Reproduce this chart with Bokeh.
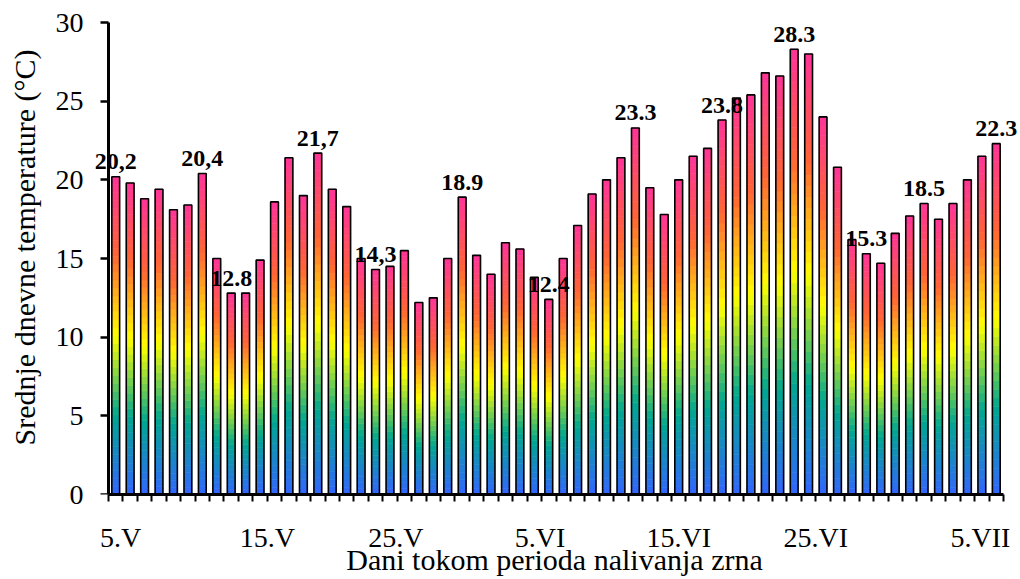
import numpy as np
from bokeh.plotting import figure
from bokeh.models import ColumnDataSource, FixedTicker, Label, LinearAxis, Range1d
from bokeh.embed import file_html
from bokeh.resources import INLINE

# Mean daily temperature (°C), one value per day from 5 May to 5 July
temps = [20.2, 19.8, 18.8, 19.4, 18.1, 18.4, 20.4, 15.0, 12.8, 12.8,
         14.9, 18.6, 21.4, 19.0, 21.7, 19.4, 18.3, 15.0, 14.3, 14.5,
         15.5, 12.2, 12.5, 15.0, 18.9, 15.2, 14.0, 16.0, 15.6, 13.8,
         12.4, 15.0, 17.1, 19.1, 20.0, 21.4, 23.3, 19.5, 17.8, 20.0,
         21.5, 22.0, 23.8, 25.2, 25.4, 26.8, 26.6, 28.3, 28.0, 24.0,
         20.8, 16.2, 15.3, 14.7, 16.6, 17.7, 18.5, 17.5, 18.5, 20.0,
         21.5, 22.3]

# Days whose value is written above the bar, and the text written there
label_days = [0, 6, 8, 14, 18, 24, 30, 36, 42, 47, 52, 56, 61]
label_texts = ["20,2", "20,4", "12.8", "21,7", "14,3", "18.9", "12.4",
               "23.3", "23.8", "28.3", "15.3", "18.5", "22.3"]

# Date labels along the x axis
date_labels = ["5.V", "15.V", "25.V", "5.VI", "15.VI", "25.VI", "5.VII"]
date_positions = [0.33, 10.5, 19.4, 29.4, 39.0, 48.5, 59.9]

# Temperature ticks
temp_ticks = [0, 5, 10, 15, 20, 25, 30]

FONT = "'Liberation Serif', serif"

n_days = len(temps)
days = np.arange(n_days)
bar_w = 0.54

# vertical colour ramp used inside every bar (bottom -> top)
ramp_stops = [0.0, 0.25, 0.5, 0.75, 1.0]
ramp_colors = ["#3366FF", "#01A78F", "#FFFF00", "#FF6633", "#FF3399"]


def hex_to_rgb(h):
    h = h.lstrip("#")
    return np.array([int(h[i:i + 2], 16) for i in (0, 2, 4)], dtype=float)


ramp_rgb = np.array([hex_to_rgb(c) for c in ramp_colors])


def ramp(t):
    rgb = [np.interp(t, ramp_stops, ramp_rgb[:, j]) for j in range(3)]
    return "#%02x%02x%02x" % tuple(int(round(c)) for c in rgb)


n_seg = 40
seg_frac = (np.arange(n_seg) + 0.5) / n_seg
seg_cols = [ramp(t) for t in seg_frac]

lefts, rights, bottoms, tops, cols = [], [], [], [], []
for d, v in zip(days, temps):
    for k in range(n_seg):
        lefts.append(d - bar_w / 2)
        rights.append(d + bar_w / 2)
        bottoms.append(v * k / n_seg)
        tops.append(v * (k + 1) / n_seg)
        cols.append(seg_cols[k])

seg_src = ColumnDataSource(dict(left=lefts, right=rights, bottom=bottoms,
                                top=tops, color=cols))

# The frame reaches a little past the data on the left, top and right so that
# the value labels near the edges are not cut off.
x_lo, x_hi = -1.886, 62.678
y_lo, y_hi = 0, 31.4
p = figure(width=1020, height=579,
           x_range=Range1d(x_lo, x_hi), y_range=Range1d(y_lo, y_hi),
           output_backend="svg", toolbar_location=None,
           min_border_left=88, min_border_right=0,
           min_border_top=0, min_border_bottom=85)

p.quad(left="left", right="right", bottom="bottom", top="top",
       fill_color="color", line_color="color", line_width=0.6,
       source=seg_src)

p.vbar(x=days, top=temps, width=bar_w, bottom=0,
       fill_alpha=0, line_color="black", line_width=1.6)

for d, txt in zip(label_days, label_texts):
    p.add_layout(Label(x=d, y=temps[d], text=txt, y_offset=15,
                       text_align="center", text_baseline="alphabetic",
                       text_font=FONT, text_font_style="bold",
                       text_font_size="24px", text_color="black"))

p.xgrid.visible = False
p.ygrid.visible = False
p.outline_line_color = None
p.background_fill_color = "white"
p.border_fill_color = "white"

# x axis: line, day ticks and date labels
xa = p.xaxis[0]
xa.bounds = (-0.5, n_days - 0.5)
xa.ticker = FixedTicker(ticks=date_positions,
                        minor_ticks=[d - 0.5 for d in range(n_days + 1)])
xa.major_label_overrides = {pos: lab for pos, lab in zip(date_positions, date_labels)}
xa.axis_line_width = 3
xa.axis_line_color = "black"
xa.major_tick_in = 0
xa.major_tick_out = 0
xa.minor_tick_in = 0
xa.minor_tick_out = 7
xa.minor_tick_line_width = 2
xa.minor_tick_line_color = "black"
xa.major_label_text_font = FONT
xa.major_label_text_font_size = "28px"
xa.major_label_text_color = "black"
xa.major_label_standoff = 20
xa.axis_label = "Dani tokom perioda nalivanja zrna"
xa.axis_label_text_font = FONT
xa.axis_label_text_font_size = "30px"
xa.axis_label_text_font_style = "normal"
xa.axis_label_text_color = "black"
xa.axis_label_standoff = -13

# y axis in the left panel: tick labels and title only
ya = p.yaxis[0]
ya.bounds = (0, 30)
ya.ticker = FixedTicker(ticks=temp_ticks)
ya.axis_line_color = None
ya.major_tick_line_color = None
ya.minor_tick_line_color = None
ya.major_tick_in = 0
ya.major_tick_out = 0
ya.minor_tick_out = 0
ya.minor_tick_in = 0
ya.major_label_text_font = FONT
ya.major_label_text_font_size = "28px"
ya.major_label_text_color = "black"
ya.major_label_standoff = 5
ya.axis_label = "Srednje dnevne temperature (°C)"
ya.axis_label_text_font = FONT
ya.axis_label_text_font_size = "30px"
ya.axis_label_text_font_style = "normal"
ya.axis_label_text_color = "black"
ya.axis_label_standoff = 12

# y axis line and ticks, pinned at the left edge of the first day
y_line = LinearAxis(fixed_location=-0.5, bounds=(0, 30),
                    ticker=FixedTicker(ticks=temp_ticks),
                    axis_line_width=3, axis_line_color="black",
                    major_tick_in=0, major_tick_out=8,
                    major_tick_line_width=2.5, major_tick_line_color="black",
                    minor_tick_in=0, minor_tick_out=0,
                    major_label_text_color=None)
p.add_layout(y_line, "left")

open("out.html", "w").write(file_html(p, INLINE))
